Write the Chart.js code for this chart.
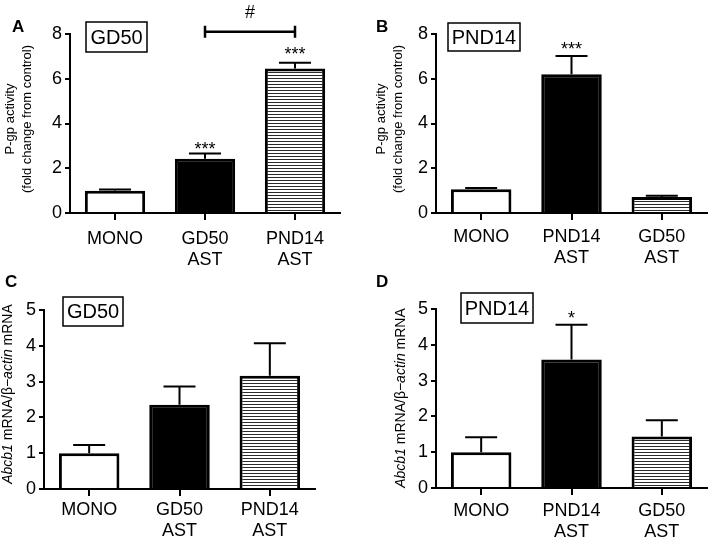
<!DOCTYPE html>
<html>
<head>
<meta charset="utf-8">
<script src="https://cdn.jsdelivr.net/npm/chart.js@4.4.1/dist/chart.umd.min.js"></script>
<style>
  html, body { margin: 0; padding: 0; background: #fff; }
  #wrap { position: relative; width: 709px; height: 544px; }
  canvas { position: absolute; }
</style>
</head>
<body>
<div id="wrap">
  <canvas id="panelA" width="354" height="272" style="left:0;top:0"></canvas>
  <canvas id="panelB" width="355" height="272" style="left:354px;top:0"></canvas>
  <canvas id="panelC" width="354" height="272" style="left:0;top:272px"></canvas>
  <canvas id="panelD" width="355" height="272" style="left:354px;top:272px"></canvas>
</div>
<script>
const FONT = "'Liberation Sans', Arial, sans-serif";

// A - P-gp activity, GD50 animals
const labelsA = ['MONO', ['GD50', 'AST'], ['PND14', 'AST']];
const meanA = [1.0, 2.42, 6.46];
const semA = [0.05, 0.24, 0.25];
const starsA = ['', '***', '***'];
const starPosA = [null, 3.05, 7.3];

// B - P-gp activity, PND14 animals
const labelsB = ['MONO', ['PND14', 'AST'], ['GD50', 'AST']];
const meanB = [1.06, 6.2, 0.72];
const semB = [0.06, 0.82, 0.05];
const starsB = ['', '***', ''];
const starPosB = [null, 7.5, null];

// C - Abcb1 mRNA, GD50 animals
const labelsC = ['MONO', ['GD50', 'AST'], ['PND14', 'AST']];
const meanC = [1.0, 2.35, 3.16];
const semC = [0.23, 0.51, 0.91];

// D - Abcb1 mRNA, PND14 animals
const labelsD = ['MONO', ['PND14', 'AST'], ['GD50', 'AST']];
const meanD = [1.0, 3.59, 1.44];
const semD = [0.42, 0.97, 0.45];
const starsD = ['', '*', ''];
const starPosD = [null, 4.86, null];

function makeHatch(ctx) {
  const c = document.createElement('canvas');
  c.width = 8; c.height = 3;
  const g = c.getContext('2d');
  g.fillStyle = '#fff';
  g.fillRect(0, 0, 8, 3);
  g.fillStyle = '#2a2a2a';
  g.fillRect(0, 0, 8, 1);
  return ctx.createPattern(c, 'repeat');
}

// rotated y title, segments may be italic
function drawRotated(ctx, cx, cy, segs, size) {
  ctx.save();
  ctx.translate(cx, cy);
  ctx.rotate(-Math.PI / 2);
  let total = 0;
  segs.forEach(s => {
    ctx.font = (s.it ? 'italic ' : '') + size + 'px ' + FONT;
    s.w = ctx.measureText(s.t).width;
    total += s.w;
  });
  let x0 = -total / 2;
  ctx.textAlign = 'left';
  ctx.textBaseline = 'middle';
  ctx.fillStyle = '#000';
  segs.forEach(s => {
    ctx.font = (s.it ? 'italic ' : '') + size + 'px ' + FONT;
    ctx.fillText(s.t, x0, 0);
    x0 += s.w;
  });
  ctx.restore();
}

const panelDecor = {
  id: 'panelDecor',
  afterDraw(chart, args, o) {
    const ctx = chart.ctx;
    const y = chart.scales.y;
    const bars = chart.getDatasetMeta(0).data;
    ctx.save();
    ctx.strokeStyle = '#000';
    ctx.fillStyle = '#000';

    // error bars (upper only)
    ctx.lineWidth = 2;
    o.sem.forEach((e, i) => {
      const bx = bars[i].x;
      const top = y.getPixelForValue(o.mean[i]);
      const tip = y.getPixelForValue(o.mean[i] + e);
      ctx.beginPath();
      ctx.moveTo(bx, top);
      ctx.lineTo(bx, tip);
      ctx.moveTo(bx - 16, tip);
      ctx.lineTo(bx + 16, tip);
      ctx.stroke();
    });

    // significance stars
    if (o.stars) {
      ctx.font = '18px ' + FONT;
      ctx.textAlign = 'center';
      ctx.textBaseline = 'alphabetic';
      o.stars.forEach((s, i) => {
        if (!s) return;
        ctx.fillText(s, bars[i].x, y.getPixelForValue(o.starPos[i]) + 10);
      });
    }

    // bracket with #
    if (o.bracket) {
      const b = o.bracket;
      const x1 = bars[b.from].x, x2 = bars[b.to].x;
      const by = y.getPixelForValue(b.at);
      ctx.lineWidth = 2.5;
      ctx.beginPath();
      ctx.moveTo(x1, by); ctx.lineTo(x2, by);
      ctx.moveTo(x1, by - 6); ctx.lineTo(x1, by + 6);
      ctx.moveTo(x2, by - 6); ctx.lineTo(x2, by + 6);
      ctx.stroke();
      ctx.font = '18px ' + FONT;
      ctx.textAlign = 'center';
      ctx.textBaseline = 'middle';
      ctx.fillText(b.label, (x1 + x2) / 2, y.getPixelForValue(b.labelAt));
    }

    // boxed group label
    const bx = o.box;
    ctx.lineWidth = 1.5;
    ctx.strokeRect(bx.x, bx.y, bx.w, bx.h);
    ctx.font = '20px ' + FONT;
    ctx.textAlign = 'center';
    ctx.textBaseline = 'middle';
    ctx.fillText(bx.t, bx.x + bx.w / 2, bx.y + bx.h / 2 + 1);

    // panel letter
    ctx.font = 'bold 17px ' + FONT;
    ctx.textAlign = 'left';
    ctx.textBaseline = 'alphabetic';
    ctx.fillText(o.letter.t, o.letter.x, o.letter.y);

    // y axis title
    o.title.forEach(line => drawRotated(ctx, line.x, o.titleY, line.segs, o.titleSize));
    ctx.restore();
  }
};

function buildPanel(id, cfg) {
  const ctx = document.getElementById(id).getContext('2d');
  const hatch = makeHatch(ctx);
  return new Chart(ctx, {
    type: 'bar',
    data: {
      labels: cfg.labels,
      datasets: [{
        data: cfg.mean,
        backgroundColor: ['#ffffff', '#000000', hatch],
        borderColor: '#000',
        borderWidth: 3,
        borderSkipped: 'start',
        barPercentage: 0.67,
        categoryPercentage: 1
      }]
    },
    options: {
      responsive: false,
      animation: false,
      devicePixelRatio: 1,
      layout: { padding: cfg.pad },
      plugins: {
        legend: { display: false },
        tooltip: { enabled: false },
        panelDecor: cfg.decor
      },
      scales: {
        x: {
          grid: { offset: false, drawOnChartArea: false, drawTicks: true, tickLength: 7, color: '#000', lineWidth: 2 },
          border: { color: '#000', width: 2 },
          ticks: { color: '#000', font: { family: FONT, size: 18, lineHeight: 1.15 }, padding: cfg.xPad, maxRotation: 0, autoSkip: false },
          afterFit: s => { s.height = cfg.xH; }
        },
        y: {
          min: 0,
          max: cfg.yMax,
          ticks: { stepSize: cfg.step, color: '#000', font: { family: FONT, size: 18 }, padding: 3 },
          grid: { drawOnChartArea: false, tickLength: 5, color: '#000', lineWidth: 2 },
          border: { color: '#000', width: 2 },
          afterFit: s => { s.width = cfg.yW; }
        }
      }
    },
    plugins: [panelDecor]
  });
}

const pgpTitle = [
  { dx: 0, segs: [{ t: 'P-gp activity' }] },
  { dx: 17, segs: [{ t: '(fold change from control)' }] }
];
const abcbTitle = [{ t: 'Abcb1', it: true }, { t: ' mRNA/\u03b2\u2212' }, { t: 'actin', it: true }, { t: ' mRNA' }];

buildPanel('panelA', {
  labels: labelsA, mean: meanA, yMax: 8, step: 2,
  pad: { left: 0, top: 34, right: 14, bottom: 0 }, yW: 70, xH: 59, xPad: 9,
  decor: {
    mean: meanA, sem: semA, stars: starsA, starPos: starPosA,
    bracket: { from: 1, to: 2, at: 8.1, label: '#', labelAt: 8.94 },
    box: { x: 86, y: 22, w: 61, h: 30, t: 'GD50' },
    letter: { t: 'A', x: 12, y: 32 },
    title: pgpTitle.map(l => ({ x: 10 + l.dx, segs: l.segs })), titleY: 119, titleSize: 13
  }
});

buildPanel('panelB', {
  labels: labelsB, mean: meanB, yMax: 8, step: 2,
  pad: { left: 0, top: 34, right: 2, bottom: 0 }, yW: 82, xH: 59, xPad: 7,
  decor: {
    mean: meanB, sem: semB, stars: starsB, starPos: starPosB,
    box: { x: 94, y: 23, w: 72, h: 28, t: 'PND14' },
    letter: { t: 'B', x: 22, y: 32 },
    title: pgpTitle.map(l => ({ x: 27 + l.dx, segs: l.segs })), titleY: 119, titleSize: 13
  }
});

buildPanel('panelC', {
  labels: labelsC, mean: meanC, yMax: 5, step: 1,
  pad: { left: 0, top: 38, right: 39, bottom: 0 }, yW: 44, xH: 55, xPad: 4,
  decor: {
    mean: meanC, sem: semC,
    box: { x: 63, y: 25, w: 60, h: 29, t: 'GD50' },
    letter: { t: 'C', x: 5, y: 15 },
    title: [{ x: 8, segs: abcbTitle.map(s => ({ ...s })) }], titleY: 122, titleSize: 14
  }
});

buildPanel('panelD', {
  labels: labelsD, mean: meanD, yMax: 5, step: 1,
  pad: { left: 0, top: 37, right: 2, bottom: 0 }, yW: 82, xH: 56, xPad: 6,
  decor: {
    mean: meanD, sem: semD, stars: starsD, starPos: starPosD,
    box: { x: 107, y: 21, w: 72, h: 30, t: 'PND14' },
    letter: { t: 'D', x: 22, y: 15 },
    title: [{ x: 47, segs: abcbTitle.map(s => ({ ...s })) }], titleY: 126, titleSize: 14
  }
});
</script>
</body>
</html>
